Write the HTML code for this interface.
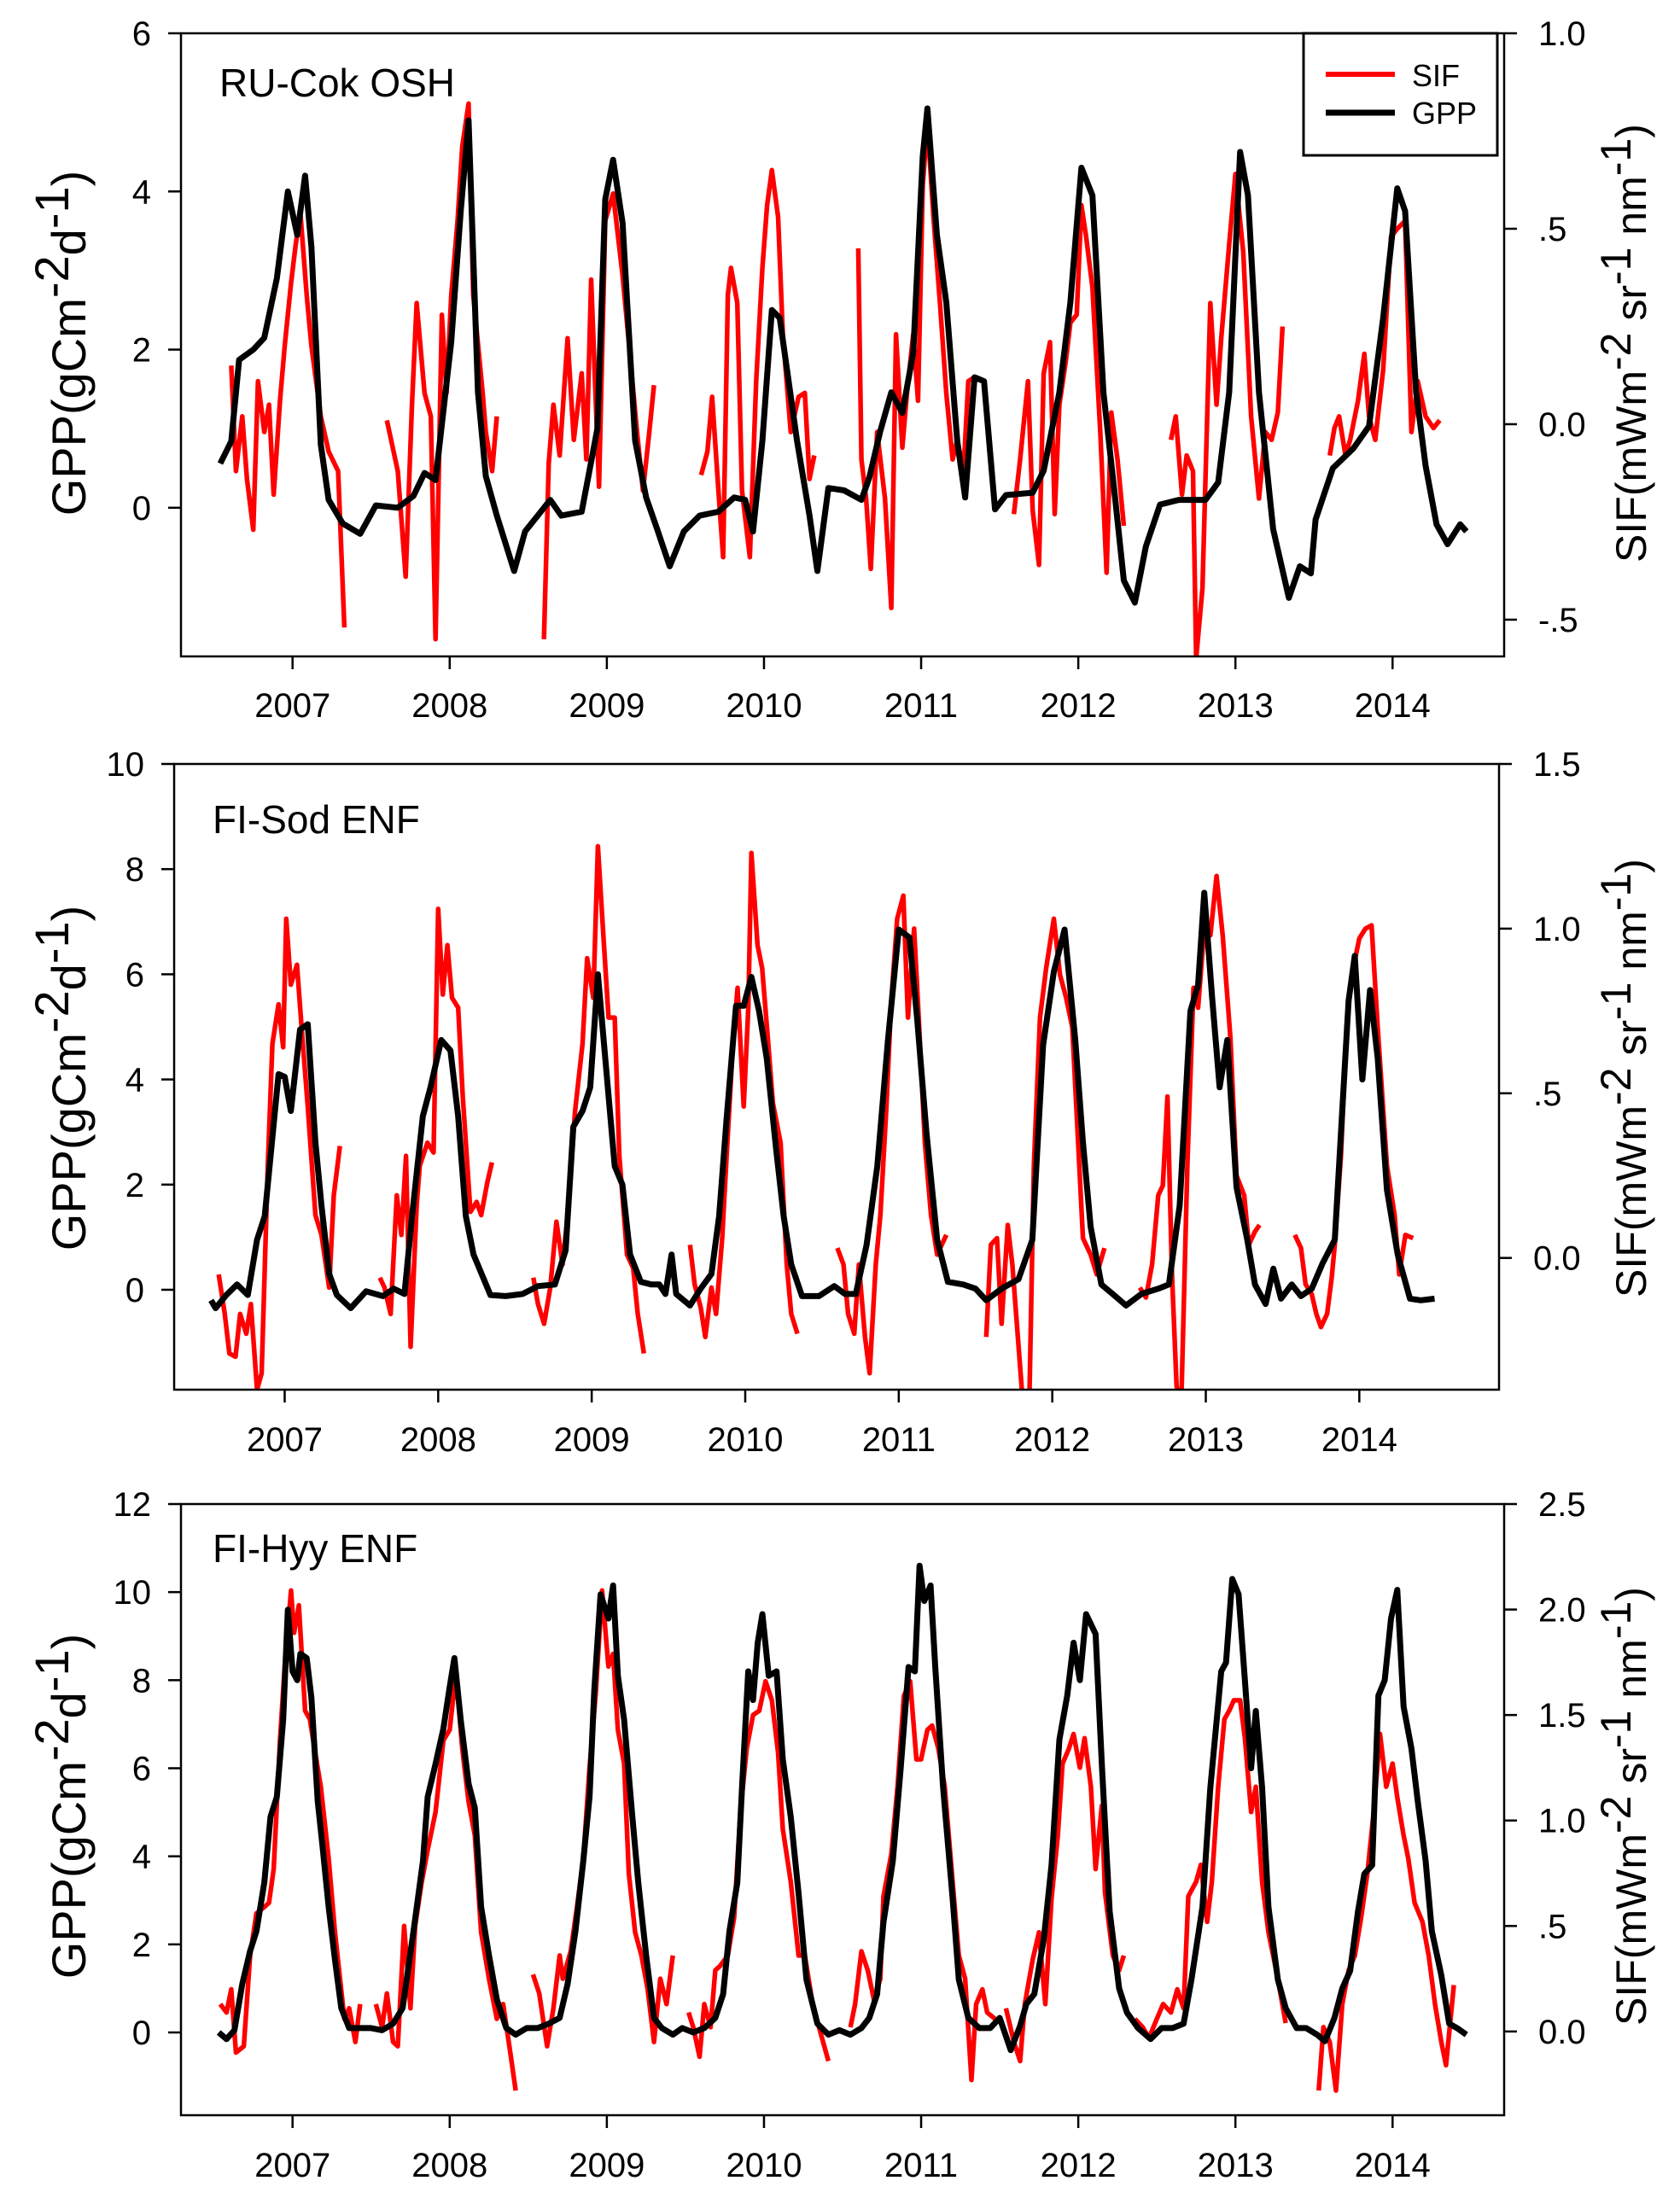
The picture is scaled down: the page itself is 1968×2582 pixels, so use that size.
<!DOCTYPE html>
<html><head><meta charset="utf-8"><style>
html,body{margin:0;padding:0;background:#fff;}
svg{display:block;}
text{font-family:"Liberation Sans",Arial,sans-serif;fill:#000;}
</style></head><body>
<svg id="chart" width="1968" height="2582" viewBox="0 0 1968 2582" xmlns="http://www.w3.org/2000/svg">
<rect x="0" y="0" width="1968" height="2582" fill="#fff"/>
</svg>
<script>
// ===== Data: RU-Cok OSH =====
const yearTicks = [2007,2008,2009,2010,2011,2012,2013,2014];
const p1GppTimes = [2006.54,2006.61,2006.66,2006.75,2006.82,2006.90,2006.97,2007.03,2007.08,2007.12,2007.18,2007.23,2007.32,2007.43,2007.53,2007.67,2007.77,2007.84,2007.91,2008.01,2008.07,2008.12,2008.18,2008.23,2008.30,2008.41,2008.48,2008.56,2008.64,2008.71,2008.84,2008.94,2008.99,2009.04,2009.10,2009.18,2009.25,2009.32,2009.40,2009.49,2009.59,2009.71,2009.81,2009.88,2009.93,2009.99,2010.05,2010.10,2010.21,2010.29,2010.34,2010.41,2010.51,2010.62,2010.67,2010.74,2010.81,2010.88,2010.95,2011.01,2011.04,2011.10,2011.16,2011.23,2011.28,2011.34,2011.40,2011.47,2011.54,2011.71,2011.78,2011.88,2011.95,2012.02,2012.09,2012.16,2012.23,2012.29,2012.36,2012.43,2012.52,2012.64,2012.81,2012.89,2012.96,2013.03,2013.08,2013.15,2013.24,2013.34,2013.41,2013.48,2013.51,2013.62,2013.75,2013.85,2013.94,2014.03,2014.08,2014.15,2014.21,2014.28,2014.35,2014.43,2014.47];
const p1GppValues = [0.56,0.84,1.87,2.0,2.15,2.9,4.0,3.45,4.2,3.3,0.8,0.1,-0.2,-0.33,0.03,0,0.15,0.44,0.35,2.1,3.75,4.9,1.46,0.4,-0.1,-0.8,-0.3,-0.1,0.1,-0.1,-0.05,1.0,3.9,4.4,3.6,0.85,0.13,-0.27,-0.74,-0.3,-0.1,-0.05,0.13,0.1,-0.3,0.85,2.5,2.4,0.85,-0.1,-0.8,0.25,0.22,0.1,0.38,0.97,1.46,1.2,1.96,4.44,5.05,3.45,2.6,0.84,0.13,1.65,1.6,-0.02,0.16,0.19,0.47,1.46,2.6,4.3,3.95,1.46,0.2,-0.92,-1.2,-0.49,0.04,0.1,0.1,0.32,1.46,4.5,3.95,1.46,-0.27,-1.14,-0.74,-0.83,-0.15,0.5,0.75,1.03,2.4,4.04,3.75,1.46,0.53,-0.21,-0.46,-0.21,-0.3];
const p1SifTimes = [2006.61,2006.64,2006.68,2006.71,2006.75,2006.78,2006.82,2006.85,2006.88,2006.92,2006.95,2006.99,2007.02,2007.05,2007.09,2007.12,2007.18,2007.23,2007.29,2007.33,null,
2007.60,2007.67,2007.72,2007.76,2007.79,2007.84,2007.88,2007.91,2007.95,2007.98,2008.01,2008.05,2008.08,2008.12,2008.15,2008.21,2008.23,2008.27,2008.30,null,
2008.60,2008.63,2008.66,2008.70,2008.75,2008.79,2008.84,2008.87,2008.90,2008.95,2008.99,2009.04,2009.10,2009.14,2009.19,2009.23,2009.27,2009.30,null,
2009.60,2009.64,2009.67,2009.71,2009.74,2009.77,2009.79,2009.83,2009.86,2009.91,2009.95,2009.99,2010.02,2010.05,2010.09,2010.12,2010.17,2010.22,2010.26,2010.29,2010.32,null,
2010.60,2010.62,2010.65,2010.68,2010.72,2010.77,2010.81,2010.84,2010.88,2010.91,2010.95,2010.98,2011.01,2011.04,2011.08,2011.12,2011.16,2011.20,2011.23,2011.27,2011.30,2011.34,null,
2011.59,2011.63,2011.68,2011.71,2011.75,2011.78,2011.82,2011.85,2011.88,2011.92,2011.95,2011.99,2012.02,2012.05,2012.09,2012.14,2012.18,2012.21,2012.25,2012.29,null,
2012.59,2012.62,2012.66,2012.69,2012.73,2012.75,2012.79,2012.84,2012.88,2012.91,2012.96,2013.00,2013.05,2013.10,2013.15,2013.19,2013.23,2013.27,2013.30,null,
2013.60,2013.63,2013.66,2013.70,2013.73,2013.78,2013.82,2013.85,2013.89,2013.94,2013.99,2014.03,2014.08,2014.12,2014.16,2014.21,2014.26,2014.30];
const p1SifValues = [0.15,-0.12,0.02,-0.14,-0.27,0.11,-0.02,0.05,-0.18,0.06,0.2,0.36,0.46,0.54,0.33,0.2,0.02,-0.07,-0.12,-0.52,null,
0.01,-0.12,-0.39,0.05,0.31,0.08,0.02,-0.55,0.28,0.08,0.33,0.52,0.71,0.82,0.33,0.08,-0.02,-0.12,0.02,null,
-0.55,-0.1,0.05,-0.08,0.22,-0.04,0.13,-0.09,0.37,-0.16,0.52,0.59,0.38,0.21,-0.01,-0.17,-0.02,0.1,null,
-0.13,-0.07,0.07,-0.17,-0.34,0.33,0.4,0.31,-0.17,-0.34,0.11,0.4,0.56,0.65,0.53,0.23,-0.02,0.07,0.08,-0.14,-0.08,null,
0.45,-0.09,-0.19,-0.37,-0.02,-0.19,-0.47,0.23,-0.06,0.08,0.23,0.06,0.61,0.77,0.52,0.31,0.08,-0.09,-0.04,-0.12,0.11,0.12,null,
-0.23,-0.09,0.11,-0.22,-0.36,0.13,0.21,-0.23,0.05,0.16,0.26,0.28,0.56,0.48,0.35,-0.02,-0.38,0.03,-0.09,-0.26,null,
-0.04,0.02,-0.18,-0.08,-0.12,-0.6,-0.42,0.31,0.05,0.22,0.46,0.64,0.44,0.02,-0.19,-0.02,-0.04,0.03,0.25,null,
-0.08,-0.01,0.02,-0.08,-0.04,0.06,0.18,0.02,-0.04,0.14,0.48,0.5,0.52,-0.02,0.11,0.02,-0.01,0.01];

// ===== Data: FI-Sod ENF =====
const p2GppTimes = [2006.52,2006.55,2006.62,2006.69,2006.76,2006.82,2006.87,2006.90,2006.96,2007.00,2007.04,2007.10,2007.15,2007.20,2007.24,2007.29,2007.34,2007.43,2007.53,2007.64,2007.71,2007.78,2007.83,2007.90,2007.95,2008.02,2008.08,2008.13,2008.18,2008.23,2008.34,2008.44,2008.55,2008.65,2008.76,2008.83,2008.88,2008.94,2008.99,2009.04,2009.09,2009.15,2009.20,2009.25,2009.32,2009.39,2009.44,2009.48,2009.52,2009.55,2009.64,2009.71,2009.78,2009.83,2009.88,2009.94,2009.99,2010.04,2010.09,2010.14,2010.20,2010.25,2010.30,2010.37,2010.48,2010.58,2010.65,2010.72,2010.79,2010.86,2010.93,2011.00,2011.07,2011.12,2011.18,2011.25,2011.32,2011.42,2011.50,2011.57,2011.67,2011.78,2011.87,2011.94,2012.01,2012.08,2012.15,2012.20,2012.25,2012.32,2012.41,2012.48,2012.58,2012.69,2012.76,2012.83,2012.90,2012.95,2012.99,2013.04,2013.09,2013.14,2013.20,2013.27,2013.32,2013.39,2013.44,2013.49,2013.56,2013.62,2013.69,2013.76,2013.84,2013.93,2013.97,2014.02,2014.07,2014.12,2014.18,2014.25,2014.33,2014.40,2014.49];
const p2GppValues = [-0.2,-0.35,-0.1,0.1,-0.1,0.95,1.4,2.3,4.1,4.05,3.4,4.95,5.05,2.8,1.6,0.3,-0.1,-0.35,-0.03,-0.12,0.02,-0.08,1.4,3.3,3.85,4.75,4.55,3.3,1.4,0.67,-0.1,-0.12,-0.08,0.07,0.1,0.75,3.1,3.4,3.85,6.0,4.35,2.35,2.0,0.67,0.15,0.1,0.1,-0.08,0.67,-0.08,-0.3,0.02,0.3,1.4,3.3,5.4,5.4,5.95,5.3,4.4,2.7,1.4,0.48,-0.12,-0.12,0.07,-0.08,-0.08,0.85,2.35,4.75,6.85,6.7,5.15,3.0,0.95,0.15,0.1,0.02,-0.2,0.02,0.2,0.95,4.65,6.05,6.85,4.75,2.8,1.2,0.1,-0.12,-0.3,-0.08,0.02,0.1,1.6,5.3,5.8,7.55,5.6,3.85,4.75,1.95,0.95,0.1,-0.27,0.4,-0.17,0.1,-0.12,0.02,0.5,0.95,5.5,6.35,4.0,5.7,4.4,1.9,0.67,-0.17,-0.2,-0.17];
const p2SifTimes = [2006.57,2006.61,2006.64,2006.68,2006.71,2006.75,2006.78,2006.82,2006.85,2006.89,2006.92,2006.96,2006.99,2007.01,2007.04,2007.08,2007.11,2007.15,2007.20,2007.24,2007.29,2007.32,2007.36,null,
2007.62,2007.65,2007.69,2007.73,2007.76,2007.79,2007.82,2007.86,2007.88,2007.93,2007.97,2008.00,2008.03,2008.06,2008.09,2008.13,2008.16,2008.21,2008.25,2008.28,2008.32,2008.35,null,
2008.62,2008.65,2008.69,2008.73,2008.77,2008.81,2008.85,2008.89,2008.94,2008.97,2009.01,2009.04,2009.08,2009.11,2009.15,2009.18,2009.23,2009.27,2009.30,2009.34,null,
2009.64,2009.67,2009.71,2009.74,2009.78,2009.81,2009.85,2009.88,2009.92,2009.95,2009.99,2010.02,2010.04,2010.08,2010.11,2010.15,2010.18,2010.23,2010.27,2010.30,2010.34,null,
2010.60,2010.64,2010.67,2010.71,2010.74,2010.78,2010.81,2010.85,2010.88,2010.92,2010.95,2010.99,2011.03,2011.06,2011.10,2011.13,2011.17,2011.21,2011.25,2011.31,null,
2011.57,2011.60,2011.64,2011.67,2011.71,2011.74,2011.81,2011.85,2011.88,2011.92,2011.96,2012.01,2012.05,2012.09,2012.13,2012.16,2012.20,2012.25,2012.29,2012.34,null,
2012.57,2012.61,2012.65,2012.69,2012.72,2012.75,2012.78,2012.81,2012.84,2012.88,2012.92,2012.95,2012.99,2013.03,2013.07,2013.11,2013.16,2013.20,2013.25,2013.28,2013.32,2013.35,null,
2013.58,2013.62,2013.65,2013.69,2013.72,2013.75,2013.79,2013.82,2013.84,2013.88,2013.92,2013.96,2014.00,2014.04,2014.08,2014.12,2014.18,2014.23,2014.26,2014.30,2014.35];
const p2SifValues = [-0.05,-0.17,-0.29,-0.3,-0.17,-0.23,-0.14,-0.4,-0.35,0.28,0.65,0.77,0.64,1.03,0.83,0.89,0.7,0.46,0.13,0.07,-0.09,0.19,0.34,null,
-0.06,-0.09,-0.17,0.19,0.07,0.31,-0.27,0.16,0.28,0.35,0.32,1.06,0.8,0.95,0.79,0.76,0.49,0.14,0.17,0.13,0.23,0.29,null,
-0.06,-0.14,-0.2,-0.09,0.11,-0.02,0.16,0.44,0.65,0.91,0.79,1.25,0.95,0.73,0.73,0.31,0.01,-0.03,-0.17,-0.29,null,
0.04,-0.08,-0.15,-0.24,-0.09,-0.17,0.06,0.32,0.65,0.82,0.46,0.76,1.23,0.95,0.88,0.65,0.47,0.35,-0.02,-0.17,-0.23,null,
0.03,-0.02,-0.17,-0.23,-0.02,-0.24,-0.35,-0.02,0.13,0.46,0.77,1.03,1.1,0.73,1.0,0.73,0.35,0.13,0.01,0.07,null,
-0.24,0.04,0.06,-0.2,0.1,-0.02,-0.45,-0.45,0.28,0.73,0.88,1.03,0.86,0.79,0.7,0.43,0.06,0.01,-0.05,0.03,null,
-0.09,-0.12,-0.02,0.19,0.22,0.49,-0.05,-0.39,-0.45,0.28,0.82,0.76,1.0,0.98,1.16,0.98,0.67,0.25,0.19,0.04,0.08,0.1,null,
0.07,0.03,-0.08,-0.11,-0.17,-0.21,-0.17,-0.06,0.04,0.31,0.73,0.88,0.97,1.0,1.01,0.7,0.28,0.13,-0.05,0.07,0.06];

// ===== Data: FI-Hyy ENF =====
const p3GppTimes = [2006.53,2006.58,2006.63,2006.68,2006.73,2006.77,2006.82,2006.86,2006.90,2006.94,2006.97,2007.00,2007.03,2007.05,2007.09,2007.12,2007.16,2007.19,2007.23,2007.27,2007.31,2007.36,2007.43,2007.50,2007.57,2007.64,2007.70,2007.77,2007.83,2007.86,2007.91,2007.96,2008.00,2008.03,2008.07,2008.12,2008.16,2008.20,2008.25,2008.30,2008.36,2008.42,2008.49,2008.56,2008.63,2008.70,2008.75,2008.80,2008.85,2008.89,2008.92,2008.96,2009.01,2009.04,2009.07,2009.11,2009.16,2009.20,2009.25,2009.30,2009.35,2009.42,2009.48,2009.55,2009.62,2009.69,2009.74,2009.78,2009.83,2009.86,2009.90,2009.93,2009.96,2009.99,2010.03,2010.08,2010.12,2010.17,2010.22,2010.27,2010.34,2010.41,2010.48,2010.55,2010.62,2010.67,2010.72,2010.76,2010.82,2010.87,2010.92,2010.96,2010.99,2011.02,2011.06,2011.09,2011.14,2011.20,2011.24,2011.30,2011.37,2011.44,2011.50,2011.57,2011.63,2011.67,2011.72,2011.78,2011.83,2011.88,2011.93,2011.97,2012.01,2012.05,2012.11,2012.15,2012.20,2012.26,2012.31,2012.38,2012.46,2012.53,2012.60,2012.67,2012.72,2012.79,2012.84,2012.91,2012.94,2012.98,2013.02,2013.06,2013.10,2013.13,2013.17,2013.21,2013.27,2013.32,2013.39,2013.45,2013.52,2013.57,2013.63,2013.68,2013.73,2013.78,2013.82,2013.87,2013.91,2013.95,2013.99,2014.03,2014.07,2014.12,2014.16,2014.21,2014.25,2014.31,2014.36,2014.41,2014.47];
const p3GppValues = [0.0,-0.15,0.05,1.1,1.85,2.3,3.4,4.9,5.35,7.1,9.6,8.2,8.0,8.6,8.5,7.6,5.25,4.25,2.85,1.65,0.55,0.1,0.1,0.1,0.05,0.2,0.55,2.3,3.9,5.35,6.1,6.9,7.85,8.5,7.1,5.65,5.1,2.85,1.75,0.75,0.1,-0.05,0.1,0.1,0.2,0.33,1.1,2.3,3.9,5.35,7.75,9.95,9.4,10.15,8.1,7.1,5.0,3.4,1.75,0.33,0.1,-0.05,0.1,0.0,0.1,0.33,0.87,2.3,3.4,5.55,8.2,7.55,8.85,9.5,8.1,8.2,6.2,4.9,3.15,1.2,0.2,-0.05,0.05,-0.05,0.1,0.33,0.87,2.5,3.9,6.0,8.3,8.2,10.6,9.8,10.15,8.3,5.55,3.05,1.2,0.33,0.1,0.1,0.33,-0.4,0.15,0.65,0.87,2.1,3.8,6.65,7.65,8.85,8.0,9.5,9.05,6.1,2.75,1.0,0.45,0.1,-0.15,0.1,0.1,0.2,1.2,2.85,5.55,8.2,8.4,10.3,9.95,8.0,6.0,7.3,5.55,2.85,1.2,0.55,0.1,0.1,-0.05,-0.2,0.33,1.0,1.4,2.75,3.6,3.8,7.65,8.0,9.4,10.05,7.4,6.45,5.25,3.9,2.3,1.3,0.2,0.1,-0.05];
const p3SifTimes = [2006.54,2006.58,2006.61,2006.64,2006.69,2006.73,2006.77,2006.82,2006.85,2006.88,2006.92,2006.95,2006.99,2007.01,2007.04,2007.08,2007.11,2007.14,2007.18,2007.23,2007.27,2007.33,2007.36,2007.40,2007.43,null,
2007.53,2007.57,2007.60,2007.64,2007.67,2007.71,2007.75,2007.78,2007.82,2007.86,2007.91,2007.96,2008.00,2008.04,2008.08,2008.12,2008.16,2008.20,2008.25,2008.30,2008.34,2008.38,2008.42,null,
2008.53,2008.57,2008.62,2008.66,2008.70,2008.72,2008.77,2008.81,2008.85,2008.89,2008.93,2008.97,2009.01,2009.04,2009.07,2009.11,2009.14,2009.18,2009.22,2009.26,2009.30,2009.34,2009.38,2009.42,null,
2009.52,2009.55,2009.59,2009.62,2009.66,2009.69,2009.72,2009.77,2009.81,2009.85,2009.89,2009.93,2009.97,2010.01,2010.05,2010.09,2010.12,2010.17,2010.22,2010.26,2010.31,2010.35,2010.41,null,
2010.55,2010.58,2010.62,2010.66,2010.70,2010.74,2010.76,2010.81,2010.85,2010.89,2010.93,2010.97,2011.00,2011.04,2011.07,2011.11,2011.15,2011.20,2011.24,2011.28,2011.32,2011.35,2011.39,2011.42,2011.47,null,
2011.54,2011.59,2011.63,2011.66,2011.71,2011.75,2011.79,2011.83,2011.87,2011.90,2011.94,2011.97,2012.01,2012.04,2012.08,2012.11,2012.15,2012.17,2012.22,2012.26,2012.29,null,
2012.36,2012.41,2012.45,2012.50,2012.54,2012.59,2012.63,2012.67,2012.70,2012.75,2012.78,2012.82,2012.85,2012.89,2012.93,2012.96,2012.99,2013.03,2013.06,2013.10,2013.13,2013.17,2013.21,2013.27,2013.32,null,
2013.53,2013.56,2013.60,2013.64,2013.68,2013.72,2013.76,2013.80,2013.84,2013.88,2013.92,2013.96,2014.00,2014.03,2014.07,2014.10,2014.14,2014.19,2014.23,2014.27,2014.31,2014.34,2014.39];
const p3SifValues = [0.13,0.09,0.2,-0.1,-0.07,0.36,0.56,0.59,0.61,0.77,1.38,1.73,2.09,1.89,2.02,1.52,1.48,1.34,1.16,0.82,0.47,0.06,0.11,-0.05,0.13,null,
0.13,0.02,0.18,-0.05,-0.07,0.5,0.11,0.5,0.7,0.86,1.04,1.38,1.43,1.7,1.34,1.09,0.93,0.47,0.25,0.06,0.13,-0.07,-0.28,null,
0.27,0.18,-0.07,0.11,0.36,0.25,0.38,0.59,0.82,1.25,1.61,2.09,1.73,1.79,1.43,1.27,0.75,0.47,0.36,0.2,-0.05,0.25,0.13,0.36,null,
0.09,0.02,-0.12,0.13,0.02,0.29,0.31,0.36,0.54,1.04,1.34,1.5,1.52,1.66,1.57,1.32,0.96,0.71,0.36,0.36,0.13,0.02,-0.14,null,
0.02,0.13,0.38,0.29,0.15,0.25,0.64,0.84,1.16,1.59,1.66,1.29,1.29,1.43,1.45,1.34,1.16,0.71,0.36,0.25,-0.23,0.13,0.2,0.09,0.06,null,
0.11,-0.05,-0.14,0.13,0.34,0.47,0.13,0.63,0.93,1.27,1.34,1.41,1.25,1.39,1.16,0.77,1.07,0.66,0.36,0.29,0.36,null,
0.06,0.02,-0.03,0.06,0.13,0.09,0.2,0.11,0.64,0.71,0.79,0.52,0.71,1.16,1.48,1.52,1.57,1.57,1.39,1.04,1.16,0.71,0.47,0.25,0.04,null,
-0.28,0.02,-0.05,-0.28,0.13,0.29,0.36,0.54,0.75,1.04,1.41,1.16,1.27,1.11,0.93,0.82,0.61,0.52,0.36,0.13,-0.05,-0.16,0.22];

const p1LeftTicks = [0,2,4,6];
const p1RightTicks = [-0.5,0,0.5,1.0];
const p1RightLabels = ["-.5","0.0",".5","1.0"];
const p2LeftTicks = [0,2,4,6,8,10];
const p2RightTicks = [0,0.5,1.0,1.5];
const p2RightLabels = ["0.0",".5","1.0","1.5"];
const p3LeftTicks = [0,2,4,6,8,10,12];
const p3RightTicks = [0,0.5,1.0,1.5,2.0,2.5];
const p3RightLabels = ["0.0",".5","1.0","1.5","2.0","2.5"];

const svg = document.getElementById('chart');
const NS = 'http://www.w3.org/2000/svg';
function mk(tag, attrs, parent){
  const e = document.createElementNS(NS, tag);
  for (const k in attrs) e.setAttribute(k, attrs[k]);
  (parent||svg).appendChild(e);
  return e;
}

const panels = [
  {id:'ru-cok', label:'RU-Cok OSH', box:[212,39,1762,769], xd:[2006.29,2014.71], gd:[-1.88,6], sd:[-0.594,1.0],
   lt:p1LeftTicks, rt:p1RightTicks, rl:p1RightLabels, gt:p1GppTimes, gv:p1GppValues, st:p1SifTimes, sv:p1SifValues,
   labelPos:[257,113], titleY:402, yearY:840, legend:true},
  {id:'fi-sod', label:'FI-Sod ENF', box:[204,895,1756,1628], xd:[2006.28,2014.91], gd:[-1.9,10], sd:[-0.4,1.5],
   lt:p2LeftTicks, rt:p2RightTicks, rl:p2RightLabels, gt:p2GppTimes, gv:p2GppValues, st:p2SifTimes, sv:p2SifValues,
   labelPos:[249,976], titleY:1263, yearY:1700, legend:false},
  {id:'fi-hyy', label:'FI-Hyy ENF', box:[212,1762,1762,2478], xd:[2006.29,2014.71], gd:[-1.88,12], sd:[-0.397,2.5],
   lt:p3LeftTicks, rt:p3RightTicks, rl:p3RightLabels, gt:p3GppTimes, gv:p3GppValues, st:p3SifTimes, sv:p3SifValues,
   labelPos:[249,1830], titleY:2116, yearY:2550, legend:false}
];

panels.forEach((p, pi) => {
  const [x0,y0,x1,y1] = p.box;
  const X = t => x0 + (t - p.xd[0]) / (p.xd[1]-p.xd[0]) * (x1-x0);
  const YG = v => y1 - (v - p.gd[0]) / (p.gd[1]-p.gd[0]) * (y1-y0);
  const YS = v => y1 - (v - p.sd[0]) / (p.sd[1]-p.sd[0]) * (y1-y0);
  const g = mk('g', {});
  
  

  const cp = mk('clipPath', {id:'clip'+pi}, g);
  mk('rect', {x:x0, y:y0, width:x1-x0, height:y1-y0}, cp);

  function pathFrom(ts, vs, Y){
    let d = '', pen = false;
    for (let i=0;i<ts.length;i++){
      if (ts[i]===null || vs[i]===null){ pen=false; continue; }
      d += (pen?'L':'M') + X(ts[i]).toFixed(1) + ' ' + Y(vs[i]).toFixed(1);
      pen = true;
    }
    return d;
  }
  const sif = mk('path', {d:pathFrom(p.st,p.sv,YS), fill:'none', stroke:'#ff0000', 'stroke-width':5.5, 'stroke-linejoin':'round', 'clip-path':'url(#clip'+pi+')'}, g);
  
  
  const gpp = mk('path', {d:pathFrom(p.gt,p.gv,YG), fill:'none', stroke:'#000', 'stroke-width':7, 'stroke-linejoin':'round', 'clip-path':'url(#clip'+pi+')'}, g);
  
  

  const frame = mk('rect', {x:x0, y:y0, width:x1-x0, height:y1-y0, fill:'none', stroke:'#000', 'stroke-width':2.5}, g);
  
  

  p.lt.forEach(v => {
    const y = YG(v);
    const tk = mk('line', {x1:x0-15, x2:x0, y1:y, y2:y, stroke:'#000', 'stroke-width':2.5}, g);
    
    
    const tx = mk('text', {x:x0-35, y:y+14, 'font-size':40, 'text-anchor':'end'}, g);
    
    
    tx.textContent = String(v);
  });
  p.rt.forEach((v, i) => {
    const y = YS(v);
    const tk = mk('line', {x1:x1, x2:x1+15, y1:y, y2:y, stroke:'#000', 'stroke-width':2.5}, g);
    
    
    const tx = mk('text', {x:x1+40, y:y+14, 'font-size':40, 'text-anchor':'start'}, g);
    
    
    tx.textContent = p.rl[i];
  });
  yearTicks.forEach(yr => {
    const x = X(yr);
    const tk = mk('line', {x1:x, x2:x, y1:y1, y2:y1+15, stroke:'#000', 'stroke-width':2.5}, g);
    
    
    const tx = mk('text', {x:x, y:p.yearY, 'font-size':40, 'text-anchor':'middle'}, g);
    
    
    tx.textContent = String(yr);
  });
  const sl = mk('text', {x:p.labelPos[0], y:p.labelPos[1], 'font-size':46}, g);
  
  
  sl.textContent = p.label;

  const lt = mk('text', {x:0, y:0, 'font-size':56, 'text-anchor':'middle', transform:'translate(100,'+p.titleY+') rotate(-90)'}, g);
  
  
  lt.innerHTML = 'GPP(gCm<tspan dy="-20">-2</tspan><tspan dy="20">d</tspan><tspan dy="-20">-1</tspan><tspan dy="20">)</tspan>';
  const rt = mk('text', {x:0, y:0, 'font-size':50, 'text-anchor':'middle', transform:'translate(1928,'+p.titleY+') rotate(-90)'}, g);
  
  
  rt.innerHTML = 'SIF(mWm<tspan dy="-18">-2</tspan><tspan dy="18"> sr</tspan><tspan dy="-18">-1</tspan><tspan dy="18"> nm</tspan><tspan dy="-18">-1</tspan><tspan dy="18">)</tspan>';

  if (p.legend){
    const lg = mk('g', {}, g);
    
    
    mk('rect', {x:1527, y:39, width:227, height:143, fill:'#fff', stroke:'#000', 'stroke-width':3}, lg);
    const l1 = mk('line', {x1:1553, x2:1634, y1:87, y2:87, stroke:'#ff0000', 'stroke-width':6}, lg);
    
    
    const t1 = mk('text', {x:1654, y:101, 'font-size':36}, lg);
    
    
    t1.textContent = 'SIF';
    const l2 = mk('line', {x1:1553, x2:1634, y1:132, y2:132, stroke:'#000', 'stroke-width':7}, lg);
    
    
    const t2 = mk('text', {x:1654, y:145, 'font-size':36}, lg);
    
    
    t2.textContent = 'GPP';
  }
});
</script>
</body></html>
